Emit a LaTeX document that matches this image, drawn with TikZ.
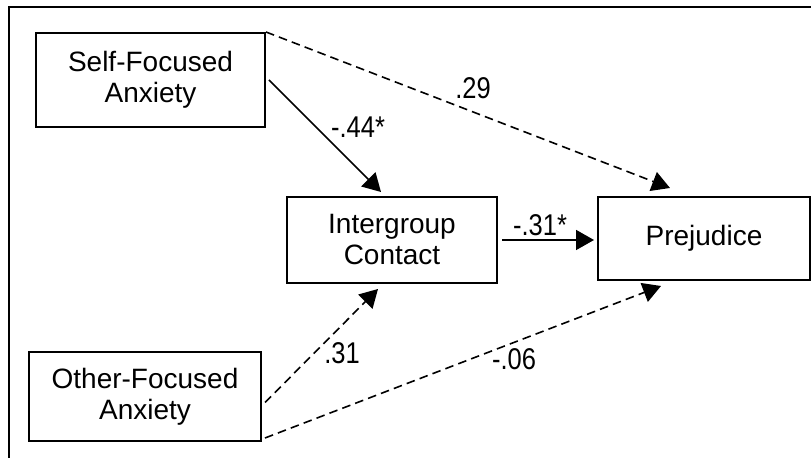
\documentclass[tikz,border=0pt]{standalone}
\usepackage{fontspec}
\setmainfont{Liberation Sans}
\newfontfamily\coeffont{Liberation Sans}[FakeStretch=0.85]
\usetikzlibrary{arrows.meta,calc}

\tikzset{
  varbox/.style={draw, line width=1pt, align=center, inner sep=2pt,
    font=\fontsize{14}{15.5}\selectfont},
  coef/.style={inner sep=0pt, font=\coeffont\fontsize{15}{16}\selectfont},
  path/.style={->, line width=0.8pt},
  npath/.style={path, dash pattern=on 4.3pt off 2.6pt}
}

\begin{document}
\begin{tikzpicture}[x=0.5pt, y=-0.5pt, >={Triangle[length=9pt,width=10pt]}]
  \useasboundingbox (0,0) rectangle (811,458);
  % outer frame (cut off right and bottom)
  \draw[line width=1pt] (9,458) -- (9,7) -- (811,7);

  % variables
  \node[varbox, minimum width=114.5pt, minimum height=47pt] (self) at (150.5,80) {Self-Focused\\Anxiety};
  \node[varbox, minimum width=116pt, minimum height=44.5pt] (other) at (145,396.5) {Other-Focused\\Anxiety};
  \node[varbox, minimum width=105pt, minimum height=43pt] (ic) at (392,240) {Intergroup\\Contact};
  \node[varbox, minimum width=106pt, minimum height=41.5pt] (prej) at (704,238.5) {Prejudice};

  % paths
  \draw[path] ($(self.east)+(3,0)$) -- ($(ic.north)+(-11,-4)$);
  \draw[npath] (self.north east) -- ($(prej.north)+(-34,-8)$);
  \draw[path] ($(ic.east)+(4,0)$) -- ($(ic.east -| prej.west)+(-3,0)$);
  \draw[npath] ($(other.east)+(3,6)$) -- ($(ic.south)+(-14,5)$);
  \draw[npath] ($(other.south east)+(3,-4)$) -- ($(prej.south)+(-43,5)$);

  % coefficients
  \node[coef] (c29) at (473,88) {.29};
  \node[coef] (c44) at (358,127) {-.44*};
  \node[coef] (c31s) at (540,225) {-.31*};
  \node[coef] (c31) at (342,353) {.31};
  \node[coef] (c06) at (514,359) {-.06};
\end{tikzpicture}
\end{document}
